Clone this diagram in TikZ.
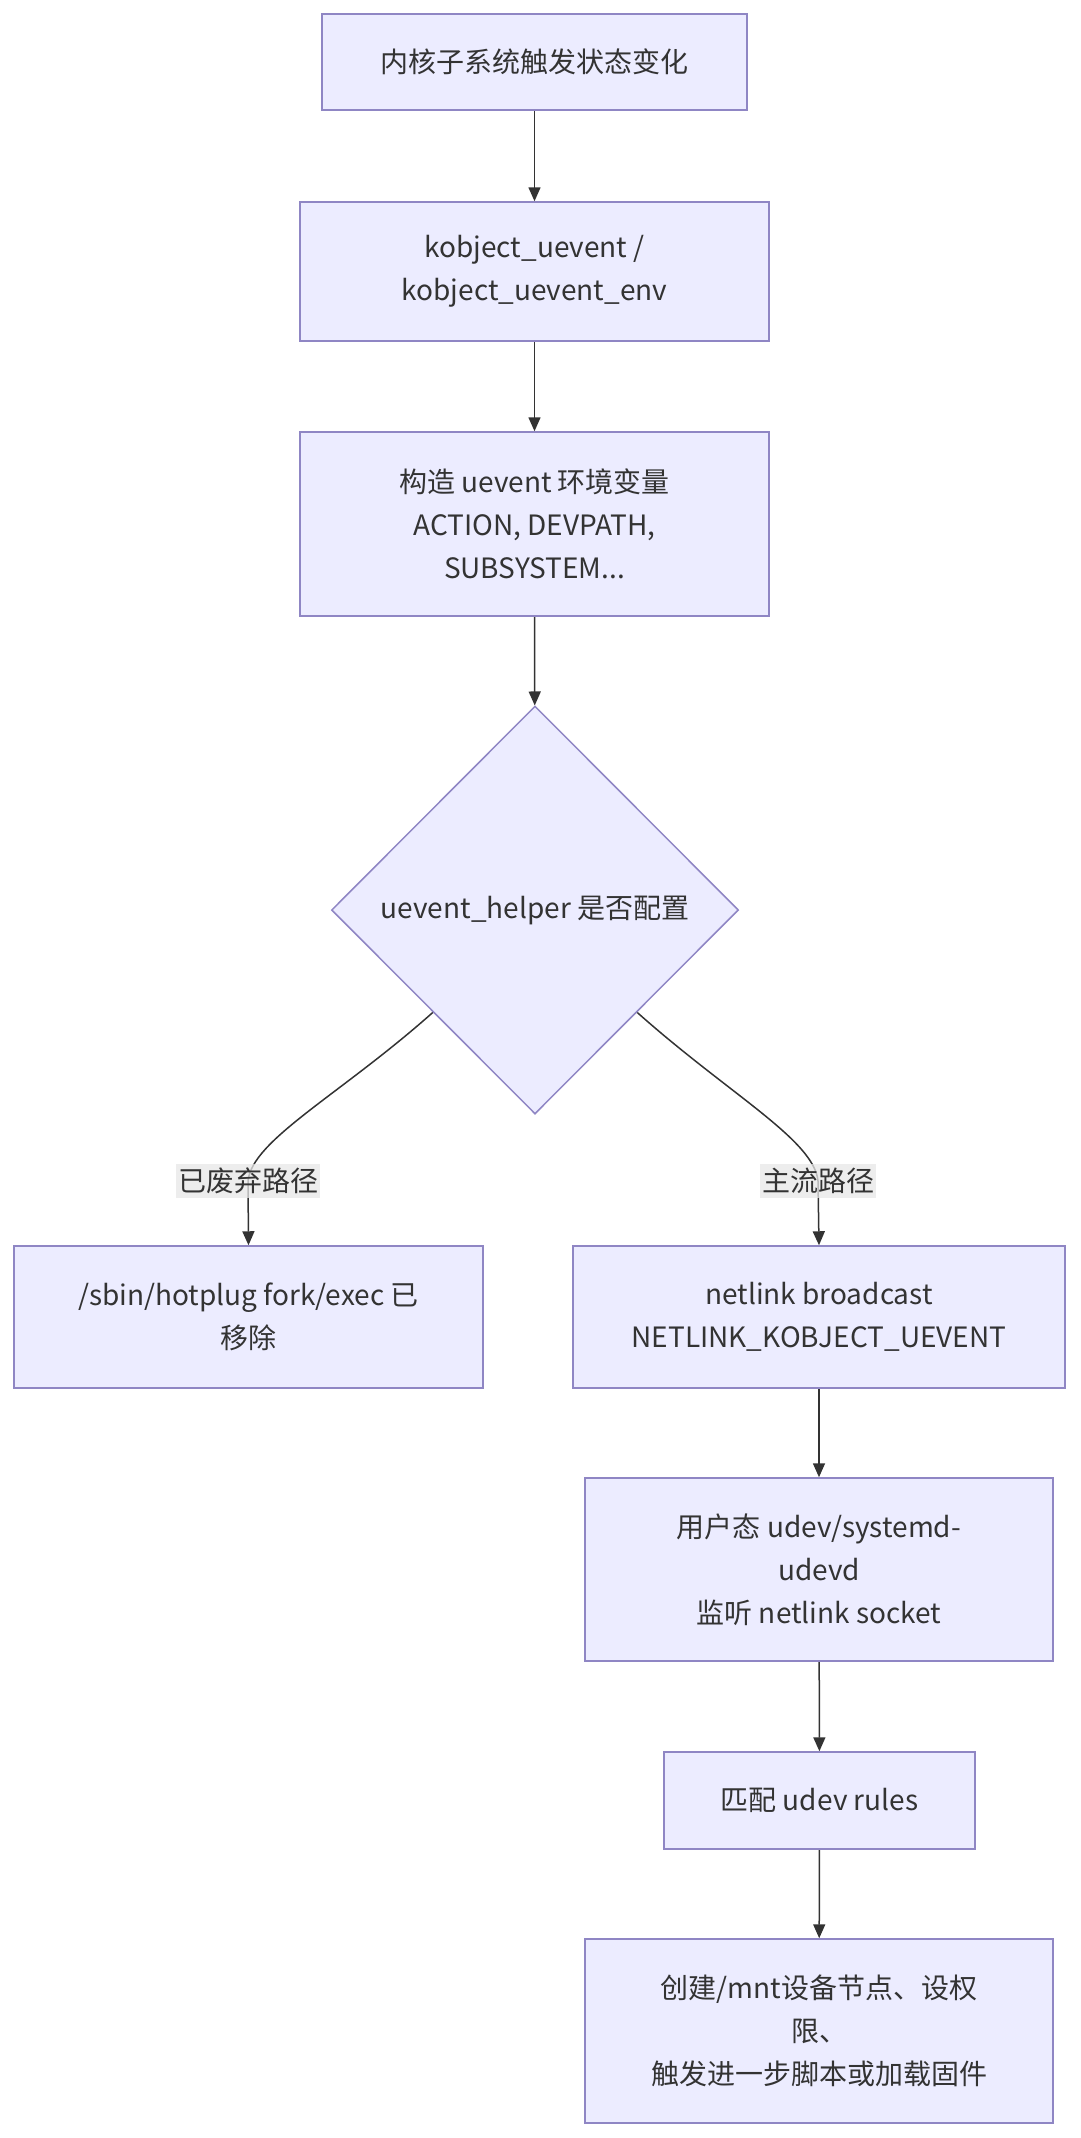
\documentclass[tikz,border=0pt]{standalone}
\usepackage{fontspec}
\setmainfont{Noto Sans CJK SC}
\usetikzlibrary{shapes.geometric,arrows.meta,backgrounds}
\definecolor{nodefill}{HTML}{ECECFF}
\definecolor{nodeline}{HTML}{8F86C4}
\definecolor{edgecol}{HTML}{333333}
\definecolor{lblfill}{HTML}{E8E8E8}
\begin{document}
\begin{tikzpicture}[x=1pt,y=-1pt,
  box/.style={draw=nodeline,fill=nodefill,line width=1.5pt,align=center,inner sep=0pt,
    text=edgecol,font=\fontsize{28}{43}\selectfont},
  dia/.style={box,shape=diamond,aspect=1},
  lbl/.style={fill=lblfill,fill opacity=0.75,text opacity=1,text=edgecol,inner xsep=2pt,inner ysep=4pt,
    font=\fontsize{28}{34}\selectfont},
  arr/.style={draw=edgecol,line width=1.5pt,-{Triangle[length=14pt,width=12pt]}}]
\begin{pgfonlayer}{background}
\fill[white] (0,0) rectangle (1080,2138);
\end{pgfonlayer}
\useasboundingbox (0,0) rectangle (1080,2138);

\node[box,minimum width=425pt,minimum height=96pt] (b1) at (534.5,62) {内核子系统触发状态变化};
\node[box,minimum width=469pt,minimum height=139pt] (b2) at (534.5,271.5) {kobject\_uevent /\\kobject\_uevent\_env};
\node[box,minimum width=469pt,minimum height=184pt] (b3) at (534.5,524) {构造 uevent 环境变量\\ACTION, DEVPATH,\\SUBSYSTEM...};
\node[dia,minimum width=407pt,minimum height=408pt] (d) at (535,910) {uevent\_helper 是否配置};
\node[box,minimum width=469pt,minimum height=142pt] (l) at (248.5,1317) {/sbin/hotplug fork/exec 已\\移除};
\node[box,minimum width=492pt,minimum height=142pt] (r) at (819,1317) {netlink broadcast\\NETLINK\_KOBJECT\_UEVENT};
\node[box,minimum width=468pt,minimum height=183pt] (u) at (819,1569.5) {用户态 udev/systemd-\\udevd\\监听 netlink socket};
\node[box,minimum width=311pt,minimum height=97pt] (m) at (819.5,1800.5) {匹配 udev rules};
\node[box,minimum width=468pt,minimum height=184pt] (f) at (819,2031) {创建/mnt设备节点、设权\\限、\\触发进一步脚本或加载固件};

\node[lbl] (la) at (248,1181) {已废弃路径};
\node[lbl] (ra) at (818,1181) {主流路径};

\begin{pgfonlayer}{background}
\draw[arr] (b1) -- (b2);
\draw[arr] (b2) -- (b3);
\draw[arr] (b3) -- (d);
\draw[arr] (d.south west) .. controls (340,1095) and (252,1140) .. (la.center) -- (l.north);
\draw[arr] (d.south east) .. controls (730,1095) and (814,1140) .. (ra.center) -- (r.north);
\draw[arr] (r) -- (u);
\draw[arr] (u) -- (m);
\draw[arr] (m) -- (f);
\end{pgfonlayer}
\end{tikzpicture}
\end{document}
